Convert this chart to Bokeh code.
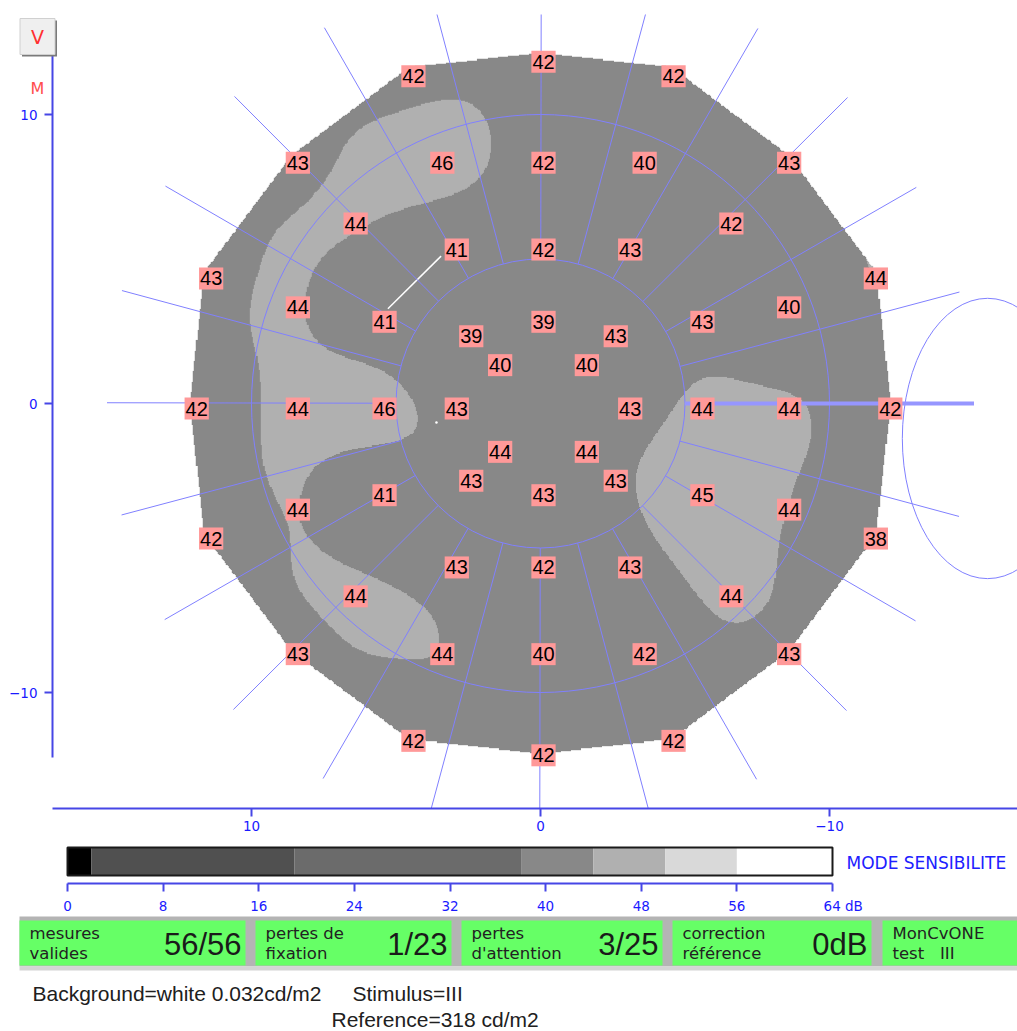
import numpy as np
from bokeh.plotting import figure
from bokeh.models import Range1d, LinearAxis, FixedTicker, Label
from bokeh.embed import file_html
from bokeh.resources import INLINE
from bokeh.core.properties import value

# ---------------- data ----------------
point_x = [4.5, 0, -4.5,
           8.5, 3.5, 0, -3.5, -8.5,
           6.5, 3.0, 0, -3.0, -6.5,
           11.5, -11.5,
           8.5, -8.5,
           5.5, 2.5, 0, -2.5, -5.5,
           1.5, -1.5,
           12, 8.5, 5.5, 3, -3, -5.5, -8.5, -12,
           1.5, -1.5,
           5.5, 2.5, 0, -2.5, -5.5,
           8.5, -8.5,
           11.5, -11.5,
           6.5, 3, 0, -3, -6.5,
           8.5, 3.5, 0, -3.5, -8.5,
           4.5, 0, -4.5]
point_y = [11.5, 12, 11.5,
           8.5, 8.5, 8.5, 8.5, 8.5,
           6.4, 5.5, 5.5, 5.5, 6.4,
           4.5, 4.5,
           3.5, 3.5,
           3, 2.5, 3, 2.5, 3,
           1.5, 1.5,
           0, 0, 0, 0, 0, 0, 0, 0,
           -1.5, -1.5,
           -3, -2.5, -3, -2.5, -3,
           -3.5, -3.5,
           -4.5, -4.5,
           -6.5, -5.5, -5.5, -5.5, -6.5,
           -8.5, -8.5, -8.5, -8.5, -8.5,
           -11.5, -12, -11.5]
point_db = [42, 42, 42,
            43, 46, 42, 40, 43,
            44, 41, 42, 43, 42,
            43, 44,
            44, 40,
            41, 39, 39, 43, 43,
            40, 40,
            42, 44, 46, 43, 43, 44, 44, 42,
            44, 44,
            41, 43, 43, 43, 45,
            44, 44,
            42, 38,
            44, 43, 42, 43, 44,
            43, 44, 40, 42, 43,
            42, 42, 42]

db_edges = [0, 2, 19, 38, 44, 50, 56, 64]
db_colors = ["#000000", "#505050", "#6b6b6b", "#888888", "#b0b0b0", "#d9d9d9", "#ffffff"]
db_ticks = [0, 8, 16, 24, 32, 40, 48, 56, 64]

axis_ticks = [-10, 0, 10]
ring_radii = [5, 10]
spoke_angles_deg = list(range(0, 360, 15))
spoke_r_inner, spoke_r_outer = 5, 15
thick_spoke_deg = 180

blind_spot_x, blind_spot_y, blind_spot_w, blind_spot_h = -15.47, -1.21, 5.9, 9.7
fixation_line_x = [3.44, 5.28]
fixation_line_y = [5.10, 3.28]
fixation_dot_x = [3.6]
fixation_dot_y = [-0.66]

box_label_1 = ["mesures", "pertes de", "pertes", "correction", "MonCvONE"]
box_label_2 = ["valides", "fixation", "d'attention", "référence", "test\u00a0\u00a0\u00a0III"]
box_values = ["56/56", "1/23", "3/25", "0dB", ""]

footer_1 = "Background=white 0.032cd/m2"
footer_2 = "Stimulus=III"
footer_3 = "Reference=318 cd/m2"

# ---------------- layout / styles ----------------
UI_FONT = "DejaVu Sans"
AXIS_BLUE = "#4646e6"
LABEL_BLUE = "#1a1aff"
SPOKE_BLUE = "#8080ff"
S = 28.9            # screen px per field unit
OX, OY = 540, 403   # page position of the field origin
W, H = 1017, 1031
TOP = 14            # frame top (page px)

def fx(px):  # page px -> field x
    return (OX - px) / S

def fy(py):  # page px -> field y
    return (OY - py) / S

PX_PER_DB = (832 - 67) / 64.0
def dbx(px):
    return (px - 67) / PX_PER_DB

def style_axis(ax, tick_out=8, standoff=6):
    ax.axis_line_color = AXIS_BLUE
    ax.axis_line_width = 2
    ax.major_tick_line_color = AXIS_BLUE
    ax.major_tick_line_width = 2
    ax.major_tick_out = tick_out
    ax.major_tick_in = 0
    ax.minor_tick_line_color = None
    ax.major_label_text_color = LABEL_BLUE
    ax.major_label_text_font = UI_FONT
    ax.major_label_text_font_size = "13.5px"
    ax.major_label_standoff = standoff

p = figure(width=W, height=H,
           x_range=Range1d(fx(0), fx(W)),
           y_range=Range1d(fy(H), fy(TOP)),
           min_border_left=0, min_border_right=0, min_border_top=TOP, min_border_bottom=0,
           x_axis_location=None, y_axis_location=None,
           output_backend="svg", toolbar_location=None)
p.outline_line_color = None
p.background_fill_color = "white"
p.border_fill_color = "white"
p.grid.visible = False
p.extra_x_ranges = {"db": Range1d(dbx(0), dbx(W))}

AXIS_Y = fy(808)   # field y of the horizontal axis
AXIS_X = fx(52)    # field x of the vertical axis

# ---------------- interpolated sensitivity map ----------------
step = 0.04
gx = np.arange(-12.6, 12.6 + 1e-9, step)
gy = np.arange(-12.6, 12.6 + 1e-9, step)
GX, GY = np.meshgrid(gx, gy)
num = np.zeros_like(GX)
den = np.zeros_like(GX)
sig = 1.55
for x0, y0, v0 in zip(point_x, point_y, point_db):
    w = np.exp(-((GX - x0) ** 2 + (GY - y0) ** 2) / (2 * sig ** 2))
    num += w * v0
    den += w
val = num / den

pxa = np.array(point_x, float)
pya = np.array(point_y, float)
outer = np.hypot(pxa, pya) >= 11.4
ox, oy = pxa[outer], pya[outer]
order = np.argsort(np.arctan2(oy, ox))
ox, oy = ox[order] * 1.01, oy[order] * 1.01
inside = np.zeros(GX.shape, bool)
n = len(ox)
j = n - 1
for i in range(n):
    xi, yi, xj, yj = ox[i], oy[i], ox[j], oy[j]
    cond = ((yi > GY) != (yj > GY)) & (GX < (xj - xi) * (GY - yi) / ((yj - yi) + 1e-12) + xi)
    inside ^= cond
    j = i

bins = np.digitize(np.round(val), db_edges[1:-1])
rgb = np.array([[int(c[k:k + 2], 16) for k in (1, 3, 5)] for c in db_colors], dtype=np.uint8)
img = np.zeros(GX.shape, dtype=np.uint32)
view = img.view(dtype=np.uint8).reshape(GX.shape + (4,))
view[..., 0] = rgb[bins, 0]
view[..., 1] = rgb[bins, 1]
view[..., 2] = rgb[bins, 2]
view[..., 3] = np.where(inside, 255, 0)
p.image_rgba(image=[img], x=gx[0] - step / 2, y=gy[0] - step / 2,
             dw=len(gx) * step, dh=len(gy) * step)

# fixation trace
p.line(fixation_line_x, fixation_line_y, line_color="white", line_width=1.5)
p.scatter(fixation_dot_x, fixation_dot_y, size=2.5, color="white", line_color=None)

# spokes (clipped at the horizontal axis); a small angular offset avoids
# exactly axis-aligned / diagonal hairlines
sx0, sy0, sx1, sy1 = [], [], [], []
for a_deg in spoke_angles_deg:
    a = np.radians(a_deg + 0.1)
    ca, sa = np.cos(a), np.sin(a)
    r_end = spoke_r_outer
    if sa < -1e-9:
        r_end = min(r_end, AXIS_Y / sa)
    sx0.append(spoke_r_inner * ca); sy0.append(spoke_r_inner * sa)
    sx1.append(r_end * ca); sy1.append(r_end * sa)
p.segment(x0=sx0, y0=sy0, x1=sx1, y1=sy1, line_color=SPOKE_BLUE, line_width=1)

# rings
p.ellipse(x=[0] * len(ring_radii), y=[0] * len(ring_radii),
          width=[2 * r for r in ring_radii], height=[2 * r for r in ring_radii],
          fill_color=None, line_color=SPOKE_BLUE, line_width=1)
# blind spot
p.ellipse(x=[blind_spot_x], y=[blind_spot_y], width=[blind_spot_w], height=[blind_spot_h],
          fill_color=None, line_color=SPOKE_BLUE, line_width=1)
ta = np.radians(thick_spoke_deg)
p.line(x=[spoke_r_inner * np.cos(ta), spoke_r_outer * np.cos(ta)],
       y=[spoke_r_inner * np.sin(ta), spoke_r_outer * np.sin(ta)],
       line_color="#9696ff", line_width=4)

# values
p.text(x=point_x, y=point_y, text=[str(v) for v in point_db],
       x_offset=3, y_offset=5,
       text_align="center", text_baseline="middle",
       text_font=value("Liberation Sans"), text_font_size="20px",
       text_color="black",
       background_fill_color="#ff9999", padding=(1, 4))

# field axes
yax = LinearAxis(ticker=FixedTicker(ticks=axis_ticks), bounds=(fy(757), fy(55)),
                 fixed_location=AXIS_X)
style_axis(yax, tick_out=8, standoff=7)
p.add_layout(yax, "left")
xax = LinearAxis(ticker=FixedTicker(ticks=axis_ticks), bounds=(fx(W), fx(52)),
                 fixed_location=AXIS_Y)
style_axis(xax, tick_out=8, standoff=4)
p.add_layout(xax, "below")

# V button (with shadow) and M marker
p.add_layout(Label(x=fx(37), y=fy(36), text="V", x_offset=2, y_offset=-2,
                   text_align="center", text_baseline="middle",
                   text_color="#7a7a7a", text_font=UI_FONT, text_font_size="19px",
                   background_fill_color="#7a7a7a", border_line_color=None,
                   padding=(11, 7)))
p.add_layout(Label(x=fx(37), y=fy(36), text="V",
                   text_align="center", text_baseline="middle",
                   text_color="#ff3030", text_font=UI_FONT, text_font_size="19px",
                   background_fill_color="#efefef", border_line_color="#d0d0d0",
                   padding=(11, 7)))
p.add_layout(Label(x=fx(37), y=fy(88), text="M",
                   text_align="center", text_baseline="middle",
                   text_color="#ff4d4d", text_font=UI_FONT, text_font_size="16px"))

# ---------------- colour scale ----------------
bar_top, bar_bottom = fy(847), fy(875)
p.quad(left=db_edges[:-1], right=db_edges[1:], bottom=bar_bottom, top=bar_top,
       fill_color=db_colors, line_color=None, x_range_name="db")
p.quad(left=[db_edges[0]], right=[db_edges[-1]], bottom=bar_bottom, top=bar_top,
       fill_color=None, line_color="#1a1a1a", line_width=2, x_range_name="db")
p.text(x=[fx(846)], y=[fy(862)], text=["MODE SENSIBILITE"],
       text_align="left", text_baseline="middle", text_font=value(UI_FONT),
       text_font_size="17px", text_color="#2020ff")
cax = LinearAxis(ticker=FixedTicker(ticks=db_ticks), bounds=(db_edges[0], db_edges[-1]),
                 x_range_name="db", fixed_location=fy(883))
style_axis(cax, tick_out=8, standoff=6)
cax.major_label_overrides = {db_ticks[-1]: "\u00a0" * 5 + str(db_ticks[-1]) + "\u00a0dB"}
p.add_layout(cax, "below")

# ---------------- status boxes ----------------
box_left = [19, 255, 461, 672, 882]
box_right = [245, 451, 662, 871, W]
p.quad(left=[fx(19)], right=[fx(W)], top=[fy(916)], bottom=[fy(966)],
       fill_color="#b4b4b4", line_color=None)
p.quad(left=[fx(19)], right=[fx(W)], top=[fy(966)], bottom=[fy(970)],
       fill_color="#d4d4d4", line_color=None)
p.quad(left=[fx(l) for l in box_left], right=[fx(r) for r in box_right],
       top=fy(920), bottom=fy(965), fill_color="#66ff66", line_color=None)
p.text(x=[fx(l + 10) for l in box_left], y=[fy(933)] * 5, text=box_label_1,
       text_baseline="middle", text_font=value(UI_FONT), text_font_size="16.5px",
       text_color="#222222")
p.text(x=[fx(l + 10) for l in box_left], y=[fy(953)] * 5, text=box_label_2,
       text_baseline="middle", text_font=value(UI_FONT), text_font_size="16.5px",
       text_color="#222222")
p.text(x=[fx(r - 4) for r in box_right], y=[fy(944)] * 5, text=box_values,
       text_align="right", text_baseline="middle", text_font=value("Liberation Sans"),
       text_font_size="31px", text_color="#1a1a1a")
p.text(x=[fx(32), fx(352)], y=[fy(993), fy(993)], text=[footer_1, footer_2],
       text_baseline="middle", text_font=value("Liberation Sans"), text_font_size="21px",
       text_color="#202020")
p.text(x=[fx(331)], y=[fy(1019)], text=[footer_3], text_baseline="middle",
       text_font=value("Liberation Sans"), text_font_size="21px", text_color="#202020")

open("out.html", "w").write(file_html(p, INLINE))
